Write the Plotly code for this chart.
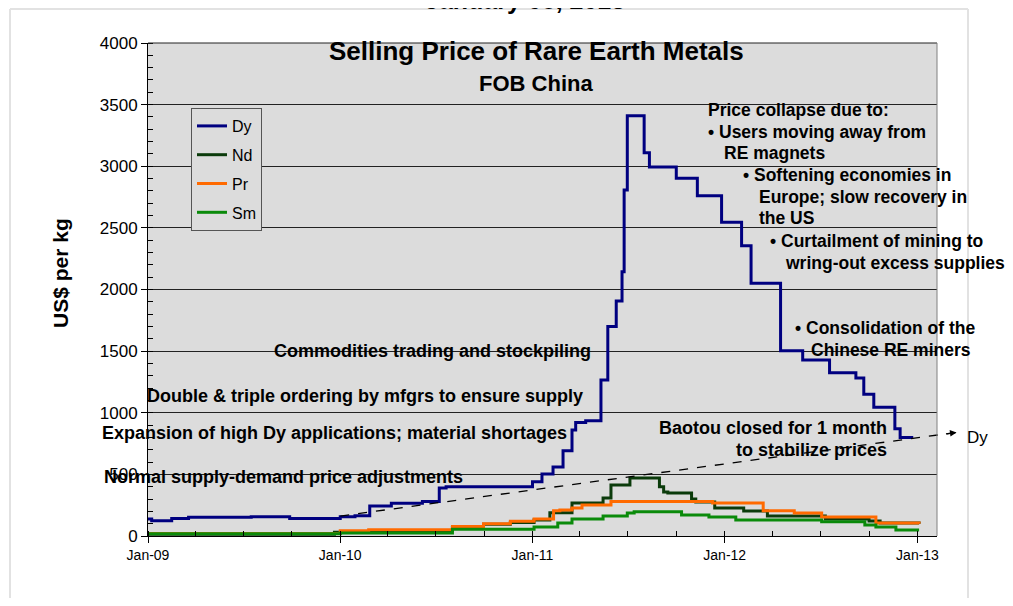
import plotly.graph_objects as go
import pandas as pd

# ---------------- data ----------------
dy_dates = ["2009-01-01", "2009-01-08", "2009-02-15", "2009-03-19", "2009-07-16", "2009-09-27",
            "2010-01-01", "2010-01-29", "2010-02-26", "2010-04-08", "2010-06-06", "2010-07-08",
            "2010-07-21", "2011-01-01", "2011-01-19", "2011-02-09", "2011-02-28", "2011-03-17",
            "2011-03-24", "2011-04-12", "2011-05-11", "2011-05-24", "2011-06-09", "2011-06-20",
            "2011-06-24", "2011-06-30", "2011-08-01", "2011-08-11", "2011-10-01", "2011-11-10",
            "2011-12-26", "2012-02-02", "2012-02-20", "2012-04-16", "2012-05-28", "2012-07-18",
            "2012-09-06", "2012-09-21", "2012-10-10", "2012-11-19", "2012-11-29", "2012-12-21"]
dy_vals = [138, 124, 143, 152, 157, 143,
           157, 165, 244, 265, 279, 390,
           400, 441, 503, 560, 692, 860,
           920, 936, 1266, 1699, 1907, 2145,
           2808, 3409, 3109, 2993, 2903, 2760,
           2546, 2354, 2051, 1504, 1429, 1325,
           1282, 1150, 1045, 870, 800, 790]

nd_dates = ["2009-01-01", "2009-12-21", "2010-02-26", "2010-05-31", "2010-08-02", "2010-09-30",
            "2010-11-20", "2011-01-04", "2011-02-03", "2011-03-17", "2011-05-15", "2011-05-30",
            "2011-07-05", "2011-08-30", "2011-09-07", "2011-09-15", "2011-10-30", "2011-11-07",
            "2011-12-13", "2012-02-06", "2012-03-22", "2012-07-10", "2012-10-01", "2012-10-22",
            "2013-01-04"]
nd_vals = [15, 30, 35, 45, 70, 95,
           110, 130, 189, 268, 308, 414,
           471, 400, 358, 349, 300, 276,
           227, 203, 162, 138, 122, 106,
           100]

pr_dates = ["2009-01-01", "2010-01-01", "2010-02-24", "2010-08-02", "2010-09-30", "2010-11-20",
            "2011-01-04", "2011-02-10", "2011-02-22", "2011-03-17", "2011-04-05", "2011-05-30",
            "2011-12-09", "2012-03-14", "2012-05-12", "2012-07-03", "2012-10-14", "2013-01-04"]
pr_vals = [20, 43, 50, 78, 100, 120,
           138, 205, 211, 227, 252, 279,
           268, 205, 187, 154, 106, 100]

sm_dates = ["2009-01-01", "2010-01-01", "2010-08-02", "2011-01-04", "2011-02-18", "2011-03-17",
            "2011-05-15", "2011-06-30", "2011-07-13", "2011-10-11", "2011-12-02", "2012-01-22",
            "2012-07-03", "2012-09-23", "2012-10-14", "2012-11-21", "2013-01-04"]
sm_vals = [18, 25, 55, 73, 106, 138,
           162, 187, 197, 170, 154, 130,
           116, 89, 73, 49, 49]

trend_dates = ["2010-01-01", "2013-03-16"]
trend_vals = [162, 840]

x_range = ["2009-01-01", "2013-02-07"]
y_max = 4000

# ---------------- layout helpers ----------------
OFF = 8                      # page body margin
W, H = 1013 - OFF, 606 - 2 * OFF
L, R, T, B = 148, 937, 43, 536   # plot area in screen pixels
FONT = "Arial, Liberation Sans, sans-serif"


def px(x):
    return (x - L) / (R - L)


def py(y):
    return (B - y) / (B - T)


t0, t1 = pd.Timestamp(x_range[0]), pd.Timestamp(x_range[1])


def date_to_paper(d):
    return (pd.Timestamp(d) - t0) / (t1 - t0)


fig = go.Figure()
series = [("Dy", dy_dates, dy_vals, "#000080"),
          ("Nd", nd_dates, nd_vals, "#0b3b0b"),
          ("Pr", pr_dates, pr_vals, "#ff6a00"),
          ("Sm", sm_dates, sm_vals, "#0a8a0a")]
for name, d, v, c in series:
    fig.add_trace(go.Scatter(x=d, y=v, name=name, mode="lines", line=dict(color=c, width=3, shape="hv"),
                             legendgroup=name))

shapes = []
tx = [date_to_paper(d) for d in trend_dates]
ty = [v / y_max for v in trend_vals]
shapes.append(dict(type="line", xref="paper", yref="paper", x0=tx[0], y0=ty[0], x1=tx[1], y1=ty[1],
                   line=dict(color="black", width=1.3, dash="dash"), layer="above"))
shapes.append(dict(type="line", xref="paper", yref="paper", x0=0, y0=1, x1=1, y1=1,
                   line=dict(color="#222", width=1)))
shapes.append(dict(type="line", xref="paper", yref="paper", x0=1, y0=0, x1=1, y1=1,
                   line=dict(color="#808080", width=1)))
for (x0, y0, x1, y1) in [(10, 9, 968, 9), (10, 9, 10, 620), (968, 9, 968, 620)]:
    shapes.append(dict(type="line", xref="paper", yref="paper", x0=px(x0), y0=py(y0), x1=px(x1), y1=py(y1),
                       line=dict(color="#e2e2e2", width=2)))

ann = []


def txt(text, x, y, size=18, xanchor="center", bold=True, color="black"):
    ann.append(dict(text=("<b>%s</b>" % text) if bold else text, x=px(x), y=py(y), xref="paper", yref="paper",
                    showarrow=False, xanchor=xanchor, yanchor="middle",
                    font=dict(family=FONT, size=size, color=color)))


txt("January 08, 2013", 525, 0, size=25)
txt("Selling Price of Rare Earth Metals", 536, 51, size=26)
txt("FOB China", 536, 84, size=22)

txt("Commodities trading and stockpiling", 432, 351)
txt("Double & triple ordering by mfgrs to ensure supply", 365, 396)
txt("Expansion of high Dy applications; material shortages", 334, 433)
txt("Normal supply-demand price adjustments", 283, 477)

right_notes = [("Price collapse due to:", 706, 110), ("• Users moving away from", 706, 132),
               ("RE magnets", 722, 153), ("• Softening economies in", 741, 175),
               ("Europe; slow recovery in", 757, 197), ("the US", 757, 218),
               ("• Curtailment of mining to", 768, 241), ("wring-out excess supplies", 783, 263),
               ("• Consolidation of the", 793, 328), ("Chinese RE miners", 809, 350)]
for t, x, y in right_notes:
    txt(t, x, y, size=17.5, xanchor="left")

txt("Baotou closed for 1 month", 889, 428, xanchor="right")
txt("to stabilize prices", 889, 450, xanchor="right")
txt("Dy", 965, 437, size=17, xanchor="left", bold=False)

ann.append(dict(text="<b>US$ per kg</b>", x=px(60), y=py(273), xref="paper", yref="paper", showarrow=False,
                textangle=-90, xanchor="center", yanchor="middle", font=dict(family=FONT, size=21, color="black")))
ann.append(dict(text="", x=tx[1], y=ty[1], xref="paper", yref="paper", showarrow=True, arrowhead=2,
                arrowsize=1, arrowwidth=1.3, arrowcolor="black", ax=-12, ay=1.6))

fig.update_layout(
    width=W, height=H,
    margin=dict(l=L - OFF, r=W - (R - OFF), t=T - OFF, b=H - (B - OFF)),
    paper_bgcolor="white", plot_bgcolor="#dcdcdc",
    font=dict(family=FONT, color="black"),
    showlegend=True,
    legend=dict(x=px(191), y=py(108), xanchor="left", yanchor="top", bgcolor="#dcdcdc",
                bordercolor="#555", borderwidth=1, font=dict(family=FONT, size=16, color="black"),
                traceorder="grouped", tracegroupgap=5, itemwidth=30),
    shapes=shapes, annotations=ann,
)
fig.update_xaxes(type="date", range=x_range, dtick="M12", tick0="2009-01-01", tickformat="%b-%y",
                 ticks="outside", ticklen=6, tickcolor="black", showgrid=False, showline=True,
                 linecolor="black", linewidth=1, zeroline=False, tickfont=dict(size=14, family=FONT),
                 minor=dict(dtick="M3", ticks="inside", ticklen=5, tickcolor="black", showgrid=False))
fig.update_yaxes(range=[0, y_max], dtick=500, ticks="outside", ticklen=6, tickcolor="black",
                 showgrid=True, gridcolor="#222", gridwidth=1, showline=True, linecolor="black",
                 linewidth=1, zeroline=False, tickfont=dict(size=17, family=FONT),
                 minor=dict(dtick=100, ticks="inside", ticklen=5, tickcolor="black", showgrid=False))

fig.write_html("out.html")
